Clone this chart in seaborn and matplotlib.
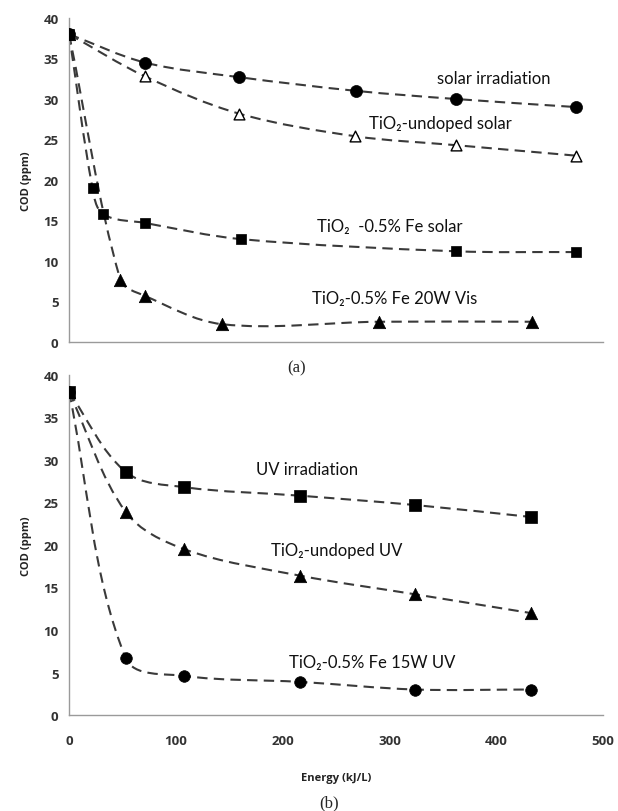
import numpy as np
import pandas as pd
import matplotlib
matplotlib.use("Agg")
import matplotlib.pyplot as plt
from matplotlib.path import Path
from matplotlib.patches import PathPatch
import seaborn as sns

# ===================== data =====================
# (a) solar / visible
solar_irr_x = [0, 71, 159, 269, 362, 475]
solar_irr_y = [38, 34.5, 32.7, 31.0, 30.0, 29.0]
undoped_solar_x = [0, 71, 159, 268, 362, 475]
undoped_solar_y = [38, 32.8, 28.2, 25.4, 24.3, 23.0]
fe_solar_x = [0, 22, 32, 71, 161, 362, 475]
fe_solar_y = [38, 19.0, 15.8, 14.7, 12.7, 11.2, 11.1]
fe_vis_x = [0, 48, 71, 143, 290, 433]
fe_vis_y = [38, 7.7, 5.7, 2.2, 2.5, 2.5]

# (b) UV
uv_irr_x = [0, 53, 108, 216, 324, 432]
uv_irr_y = [38, 28.6, 26.8, 25.8, 24.7, 23.3]
undoped_uv_x = [0, 53, 108, 216, 324, 432]
undoped_uv_y = [38, 23.9, 19.5, 16.4, 14.2, 12.0]
fe_uv_x = [0, 53, 108, 216, 324, 432]
fe_uv_y = [38, 6.7, 4.6, 3.9, 3.0, 3.0]

x_ticks = [0, 100, 200, 300, 400, 500]
y_ticks = [0, 5, 10, 15, 20, 25, 30, 35, 40]

LINE_COLOR = "#3a3a3a"
SPINE_COLOR = "#9a9a9a"
BOLD_FONT = ["Open Sans", "Noto Sans", "DejaVu Sans"]
TEXT_FONT = ["Lato", "DejaVu Sans"]


# ===================== smoothed dashed line (Excel-like) =====================
def smooth_dashed(ax, xs, ys, tension=0.33):
    # work in pixel-like units so the tangent lengths follow the drawn aspect
    w, h = 534.0, 330.0
    sx, sy = w / 500.0, h / 40.0
    pts = np.column_stack([np.asarray(xs) * sx, np.asarray(ys) * sy]).astype(float)
    n = len(pts)

    def tangent(i):
        a = pts[max(i - 1, 0)]
        b = pts[min(i + 1, n - 1)]
        d = b - a
        return d / np.hypot(*d)

    verts = [pts[0]]
    codes = [Path.MOVETO]
    for i in range(n - 1):
        p1, p2 = pts[i], pts[i + 1]
        seg = np.hypot(*(p2 - p1))
        c1 = p1 + tangent(i) * seg * tension
        c2 = p2 - tangent(i + 1) * seg * tension
        verts += [c1, c2, p2]
        codes += [Path.CURVE4] * 3
    verts = np.array(verts) / np.array([sx, sy])
    patch = PathPatch(Path(verts, codes), fill=False, edgecolor=LINE_COLOR,
                      lw=1.5, linestyle=(0, (5, 3)), zorder=2)
    ax.add_patch(patch)


def draw_series(ax, xs, ys, marker, size, filled=True):
    smooth_dashed(ax, xs, ys)
    df = pd.DataFrame({"x": xs, "y": ys})
    sns.scatterplot(data=df, x="x", y="y", ax=ax, marker=marker, s=size,
                    color="black" if filled else "white",
                    edgecolor="black", linewidth=1.0 if not filled else 0.5,
                    zorder=3, legend=False)


def style_axes(ax, show_xlabels):
    ax.set_xlim(0, 500)
    ax.set_ylim(0, 40)
    ax.set_xticks(x_ticks)
    ax.set_yticks(y_ticks)
    for s in ["top", "right"]:
        ax.spines[s].set_visible(False)
    for s in ["left", "bottom"]:
        ax.spines[s].set_color(SPINE_COLOR)
        ax.spines[s].set_linewidth(1.0)
    ax.tick_params(axis="both", direction="out", length=4, width=1.0,
                   color=SPINE_COLOR, labelcolor="#333333", labelsize=9.5)
    ax.tick_params(axis="x", pad=10)
    for lab in ax.get_yticklabels() + ax.get_xticklabels():
        lab.set_family(BOLD_FONT)
        lab.set_fontweight("bold")
    if not show_xlabels:
        ax.set_xticklabels([])
    ax.set_ylabel("COD (ppm)", fontsize=8, fontweight="bold",
                  family=BOLD_FONT, color="#222222", labelpad=8)
    ax.set_xlabel("")
    ax.grid(False)


sns.set_theme(style="white")
plt.rcParams['font.family'] = ["Lato", "DejaVu Sans"]

fig = plt.figure(figsize=(6.18, 8.12), dpi=100)
ax1 = fig.add_axes([0.1117, 0.5776, 0.8643, 0.399])
ax2 = fig.add_axes([0.1117, 0.1182, 0.8643, 0.4188])

# ----- (a) -----
draw_series(ax1, solar_irr_x, solar_irr_y, "o", 75)
draw_series(ax1, undoped_solar_x, undoped_solar_y, "^", 60, filled=False)
draw_series(ax1, fe_solar_x, fe_solar_y, "s", 60)
draw_series(ax1, fe_vis_x, fe_vis_y, "^", 80)
style_axes(ax1, False)

lab_kw = dict(fontsize=12, family=TEXT_FONT, color="#111111",
              ha="left", va="center")
ax1.text(344, 32.6, "solar irradiation", **lab_kw)
ax1.text(281, 27.0, "TiO\u2082-undoped solar", **lab_kw)
ax1.text(232, 14.3, "TiO\u2082  -0.5% Fe solar", **lab_kw)
ax1.text(227, 5.4, "TiO\u2082-0.5% Fe 20W Vis", **lab_kw)

# ----- (b) -----
draw_series(ax2, uv_irr_x, uv_irr_y, "s", 65)
draw_series(ax2, undoped_uv_x, undoped_uv_y, "^", 80)
draw_series(ax2, fe_uv_x, fe_uv_y, "o", 70)
style_axes(ax2, True)
ax2.set_xlabel("Energy (kJ/L)", fontsize=8, fontweight="bold",
               family=BOLD_FONT, color="#222222", labelpad=18)

ax2.text(175, 28.9, "UV irradiation", **lab_kw)
ax2.text(189, 19.4, "TiO\u2082-undoped UV", **lab_kw)
ax2.text(206, 6.2, "TiO\u2082-0.5% Fe 15W UV", **lab_kw)

# panel captions
fig.text(297 / 618, 1 - 368 / 812, "(a)", fontsize=12, ha="center", va="center",
         family=["Liberation Serif", "DejaVu Serif"])
fig.text(329 / 618, 1 - 803 / 812, "(b)", fontsize=12, ha="center", va="center",
         family=["Liberation Serif", "DejaVu Serif"])

fig.savefig("out.png", dpi=100, facecolor="white")
